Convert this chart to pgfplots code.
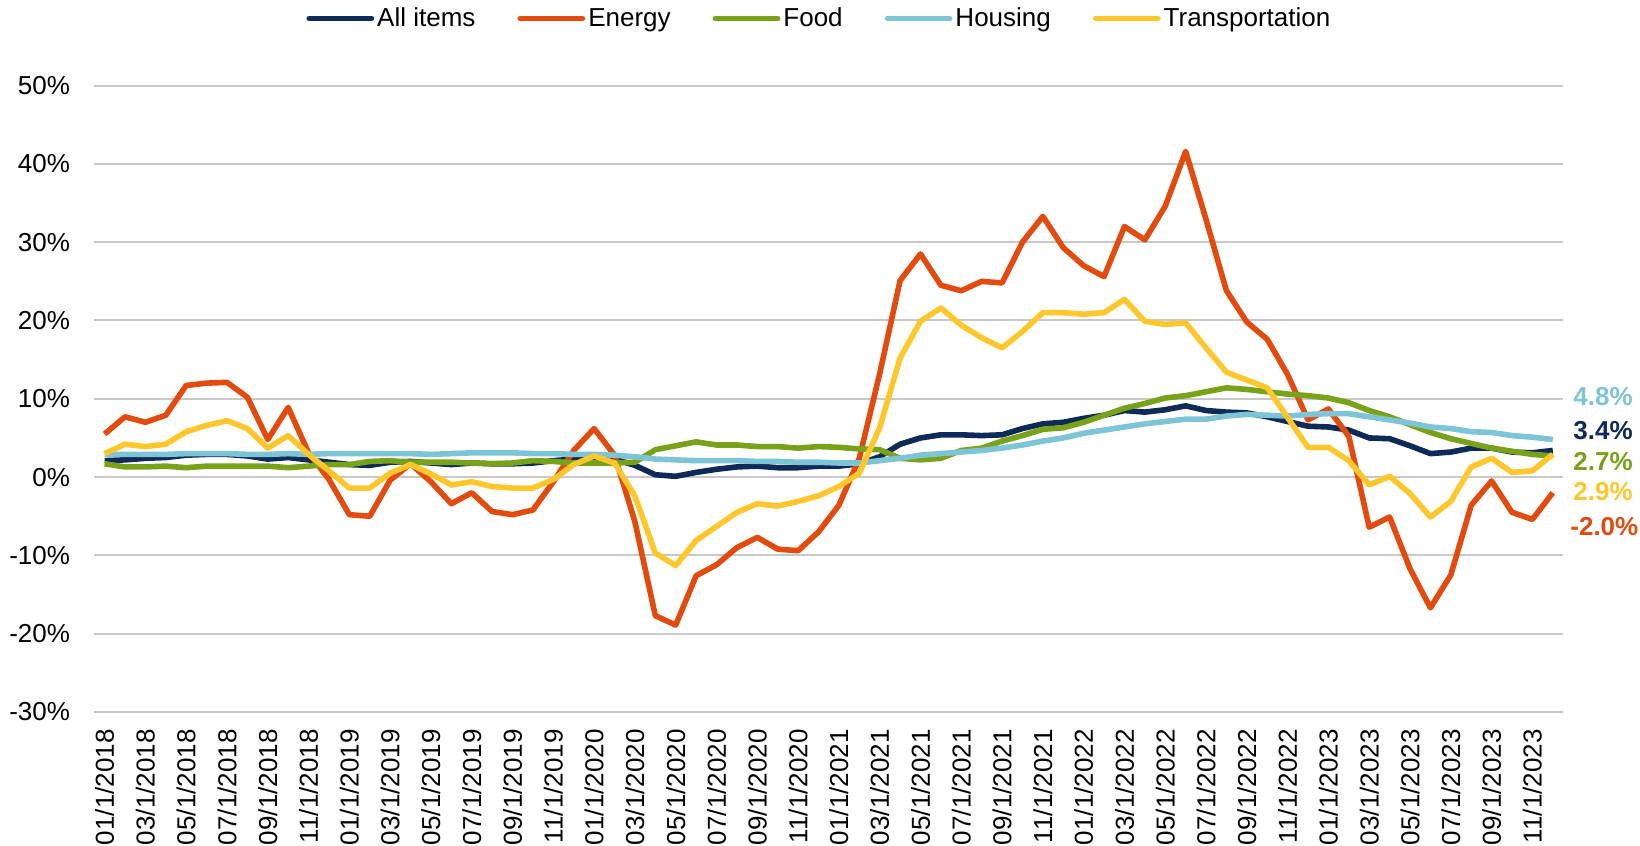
\documentclass[border=0pt]{standalone}
\usepackage{pgfplots}
\pgfplotsset{compat=1.18}
\usepackage{pgfplotstable}
\usepackage{fontspec}
\setmainfont{Liberation Sans}
\definecolor{cAll}{HTML}{0E2A56}
\definecolor{cEnergy}{HTML}{E24A0E}
\definecolor{cFood}{HTML}{78A21A}
\definecolor{cHousing}{HTML}{7DC5D6}
\definecolor{cTransp}{HTML}{FFC72C}
\definecolor{cGrid}{HTML}{C8C8C8}
\pgfplotstableread{
i all energy food housing transp
0 2.1 5.5 1.7 2.9 3.0
1 2.2 7.7 1.3 2.9 4.2
2 2.4 7.0 1.3 2.9 3.9
3 2.5 7.9 1.4 2.9 4.2
4 2.8 11.7 1.2 3.0 5.8
5 2.9 12.0 1.4 3.0 6.6
6 2.9 12.1 1.4 3.0 7.2
7 2.7 10.2 1.4 2.9 6.2
8 2.3 4.8 1.4 2.9 3.7
9 2.5 8.9 1.2 3.0 5.3
10 2.2 3.1 1.4 2.9 2.9
11 1.9 -0.3 1.6 3.0 0.8
12 1.6 -4.8 1.6 3.0 -1.4
13 1.5 -5.0 2.0 3.0 -1.4
14 1.9 -0.4 2.1 3.0 0.5
15 2.0 1.7 1.9 3.0 1.6
16 1.8 -0.6 1.9 2.9 0.4
17 1.6 -3.4 1.9 3.0 -1.0
18 1.8 -2.0 1.8 3.1 -0.6
19 1.7 -4.4 1.7 3.1 -1.2
20 1.7 -4.8 1.8 3.1 -1.4
21 1.8 -4.2 2.1 3.0 -1.4
22 2.1 -0.6 2.0 3.0 -0.3
23 2.3 3.4 1.8 2.9 1.6
24 2.5 6.2 1.8 2.9 2.7
25 2.3 2.8 1.8 2.8 1.8
26 1.5 -5.7 1.9 2.6 -2.4
27 0.3 -17.7 3.5 2.3 -9.7
28 0.1 -18.9 4.0 2.2 -11.3
29 0.6 -12.6 4.5 2.1 -8.1
30 1.0 -11.2 4.1 2.1 -6.3
31 1.3 -9.0 4.1 2.1 -4.5
32 1.4 -7.7 3.9 2.0 -3.4
33 1.2 -9.2 3.9 2.0 -3.7
34 1.2 -9.4 3.7 1.9 -3.1
35 1.4 -7.0 3.9 1.9 -2.4
36 1.4 -3.6 3.8 1.8 -1.2
37 1.7 2.4 3.6 1.8 0.5
38 2.6 13.2 3.5 2.1 6.3
39 4.2 25.1 2.4 2.4 15.2
40 5.0 28.5 2.2 2.8 19.9
41 5.4 24.5 2.4 3.0 21.6
42 5.4 23.8 3.4 3.2 19.4
43 5.3 25.0 3.7 3.4 17.8
44 5.4 24.8 4.6 3.7 16.5
45 6.2 30.0 5.3 4.1 18.6
46 6.8 33.3 6.1 4.6 21.0
47 7.0 29.3 6.3 5.0 21.0
48 7.5 27.0 7.0 5.6 20.8
49 7.9 25.6 7.9 6.0 21.0
50 8.5 32.0 8.8 6.4 22.7
51 8.3 30.3 9.4 6.8 19.9
52 8.6 34.6 10.1 7.1 19.5
53 9.1 41.6 10.4 7.4 19.7
54 8.5 32.9 10.9 7.4 16.5
55 8.3 23.8 11.4 7.8 13.4
56 8.2 19.8 11.2 8.0 12.4
57 7.7 17.6 10.9 7.9 11.4
58 7.1 13.1 10.6 7.8 7.6
59 6.5 7.3 10.4 8.0 3.8
60 6.4 8.7 10.1 8.1 3.8
61 6.0 5.2 9.5 8.1 2.1
62 5.0 -6.4 8.5 7.7 -1.0
63 4.9 -5.1 7.7 7.3 0.1
64 4.0 -11.7 6.7 6.9 -2.1
65 3.0 -16.7 5.7 6.4 -5.1
66 3.2 -12.5 4.9 6.2 -3.1
67 3.7 -3.6 4.3 5.8 1.3
68 3.7 -0.5 3.7 5.7 2.4
69 3.2 -4.5 3.3 5.3 0.6
70 3.1 -5.4 2.9 5.1 0.8
71 3.4 -2.0 2.7 4.8 2.9
}\cpidata
\newcommand{\lf}{\fontsize{13}{15.6}\selectfont}
\begin{document}
\begin{tikzpicture}
\useasboundingbox (0,0) rectangle (820pt,423pt);
\begin{axis}[
  at={(47.2pt,67pt)}, anchor=south west,
  scale only axis, width=734.3pt, height=313.2pt,
  xmin=-0.5, xmax=71.5, ymin=-30, ymax=50,
  axis line style={draw=none},
  major tick length=0pt,
  ytick={-30,-20,...,50},
  yticklabels={-30\%,-20\%,-10\%,0\%,10\%,20\%,30\%,40\%,50\%},
  ymajorgrids, grid style={cGrid, line width=1pt},
  xtick={0,2,...,70},
  xticklabels={01/1/2018,03/1/2018,05/1/2018,07/1/2018,09/1/2018,11/1/2018,
    01/1/2019,03/1/2019,05/1/2019,07/1/2019,09/1/2019,11/1/2019,
    01/1/2020,03/1/2020,05/1/2020,07/1/2020,09/1/2020,11/1/2020,
    01/1/2021,03/1/2021,05/1/2021,07/1/2021,09/1/2021,11/1/2021,
    01/1/2022,03/1/2022,05/1/2022,07/1/2022,09/1/2022,11/1/2022,
    01/1/2023,03/1/2023,05/1/2023,07/1/2023,09/1/2023,11/1/2023},
  yticklabel style={font=\lf, anchor=east, inner sep=0pt, xshift=-12pt},
  xticklabel style={font=\lf, yshift=-8.5pt, rotate=90, anchor=east, inner sep=0pt},
  clip=false,
  legend columns=-1,
  legend style={at={(0.494,1.107)}, anchor=center, draw=none, fill=none,
    font=\lf, inner sep=0pt, nodes={inner sep=1.5pt},
    /tikz/every even column/.append style={column sep=19.5pt}},
  legend cell align=left,
  legend image code/.code={\draw[#1, line width=2.9pt, line cap=round] (0pt,0pt) -- (31pt,0pt);},
  every axis plot/.append style={line width=2.8pt, line join=round, no markers},
]
\addplot[cAll] table[x=i, y=all] {\cpidata};
\addlegendentry{All items}
\addplot[cEnergy] table[x=i, y=energy] {\cpidata};
\addlegendentry{Energy}
\addplot[cFood] table[x=i, y=food] {\cpidata};
\addlegendentry{Food}
\addplot[cHousing] table[x=i, y=housing] {\cpidata};
\addlegendentry{Housing}
\addplot[cTransp] table[x=i, y=transp] {\cpidata};
\addlegendentry{Transportation}
\node[anchor=west, inner sep=0pt, xshift=5pt, font=\lf\bfseries, text=cHousing] at (axis cs:71.5,10.24) {4.8\%};
\node[anchor=west, inner sep=0pt, xshift=5pt, font=\lf\bfseries, text=cAll] at (axis cs:71.5,5.9) {3.4\%};
\node[anchor=west, inner sep=0pt, xshift=5pt, font=\lf\bfseries, text=cFood] at (axis cs:71.5,1.94) {2.7\%};
\node[anchor=west, inner sep=0pt, xshift=5pt, font=\lf\bfseries, text=cTransp] at (axis cs:71.5,-1.89) {2.9\%};
\node[anchor=west, inner sep=0pt, xshift=3.5pt, font=\lf\bfseries, text=cEnergy] at (axis cs:71.5,-6.36) {-2.0\%};
\end{axis}
\end{tikzpicture}
\end{document}
